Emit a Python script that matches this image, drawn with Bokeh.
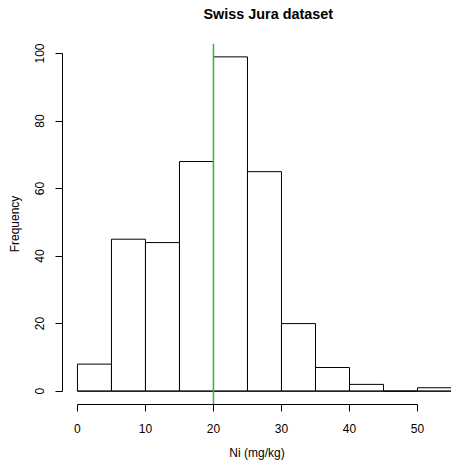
from bokeh.plotting import figure
from bokeh.models import FixedTicker, Span, ColumnDataSource, Title
from bokeh.embed import file_html
from bokeh.resources import INLINE

# Data
bin_edges = [0, 5, 10, 15, 20, 25, 30, 35, 40, 45, 50, 55]
counts = [8, 45, 44, 68, 99, 65, 20, 7, 2, 0, 1]
x_ticks = [0, 10, 20, 30, 40, 50]
y_ticks = [0, 20, 40, 60, 80, 100]
marker_value = 20
title_text = "Swiss Jura dataset"
x_label = "Ni (mg/kg)"
y_label = "Frequency"

FONT = "Liberation Sans"

src = ColumnDataSource(dict(
    left=bin_edges[:-1], right=bin_edges[1:], top=counts, bottom=[0] * len(counts)
))

p = figure(width=451, height=462, output_backend="svg", toolbar_location=None,
           x_range=(-2.2, 55.0), y_range=(-3.96, 102.96),
           min_border_left=62, min_border_right=0, min_border_top=43, min_border_bottom=58)
p.outline_line_color = None
p.xgrid.visible = False
p.ygrid.visible = False
p.background_fill_color = "white"
p.border_fill_color = "white"

# spacer title (closest to the frame) + real title above it
p.add_layout(Title(text=" ", text_font=FONT, text_font_size="14.4px", standoff=0), "above")
p.title = Title(text=title_text, align="left", offset=141, standoff=7,
                text_font=FONT, text_font_size="14.4px", text_font_style="bold",
                text_color="black")

p.quad(left="left", right="right", top="top", bottom="bottom", source=src,
       fill_color="white", line_color="black", line_width=1)
p.segment(x0="left", y0="bottom", x1="right", y1="bottom", source=src,
          line_color="black", line_width=1)

p.add_layout(Span(location=marker_value, dimension="height", line_color="#38B838", line_width=1.5))

for ax, ticks, bnds in ((p.xaxis[0], x_ticks, (x_ticks[0], x_ticks[-1])),
                        (p.yaxis[0], y_ticks, (y_ticks[0], y_ticks[-1]))):
    ax.ticker = FixedTicker(ticks=ticks)
    ax.bounds = bnds
    ax.minor_tick_line_color = None
    ax.major_tick_in = 0
    ax.major_tick_out = 7
    ax.axis_line_color = "black"
    ax.major_tick_line_color = "black"
    ax.major_label_text_font = FONT
    ax.major_label_text_font_size = "12px"
    ax.major_label_text_color = "black"
    ax.axis_label_text_font = FONT
    ax.axis_label_text_font_size = "12px"
    ax.axis_label_text_font_style = "normal"
    ax.axis_label_text_color = "black"

p.xaxis.axis_label = x_label
p.yaxis.axis_label = y_label
p.xaxis.major_label_standoff = 12
p.xaxis.axis_label_standoff = 10
p.yaxis.major_label_standoff = 11
p.yaxis.major_label_orientation = "vertical"
p.yaxis.axis_label_standoff = 11

open("out.html", "w").write(file_html(p, INLINE))
